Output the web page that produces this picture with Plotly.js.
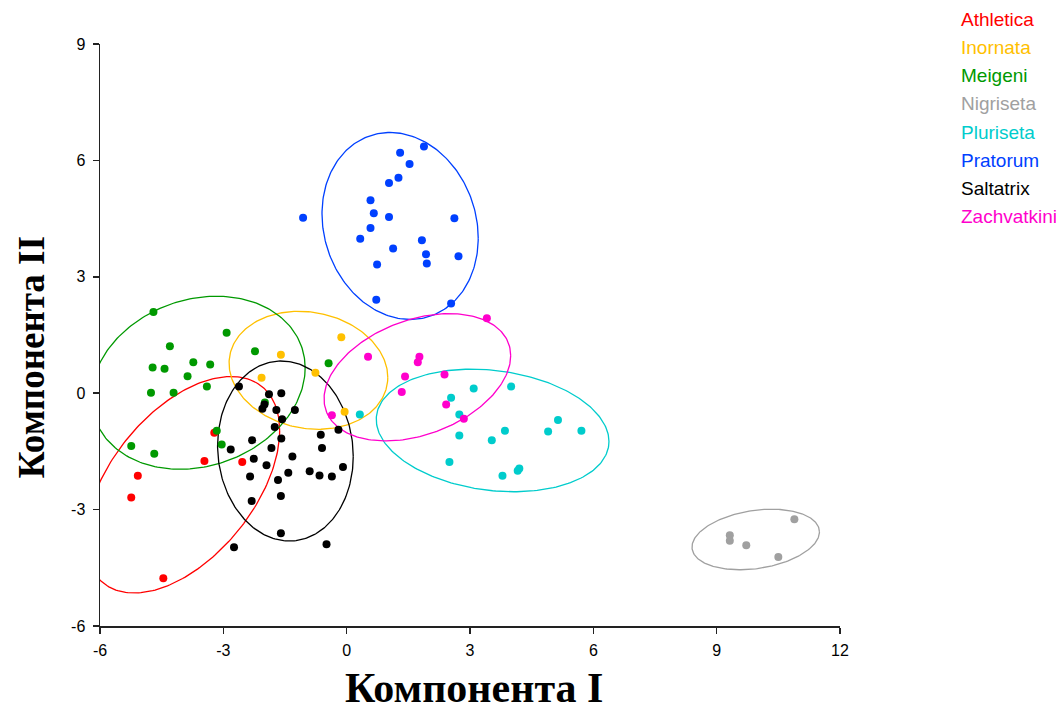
<!DOCTYPE html>
<html>
<head>
<meta charset="utf-8">
<script src="https://cdn.plot.ly/plotly-3.0.1.min.js"></script>
<style>html,body{margin:0;padding:0;background:#fff;}#chart{width:1062px;height:710px;}</style>
</head>
<body>
<div id="chart"></div>
<script>
// Species (legend order) and colours
const species = ["Athletica","Inornata","Meigeni","Nigriseta","Pluriseta","Pratorum","Saltatrix","Zachvatkini"];
const colors  = ["#ff0000","#ffc000","#009900","#a0a0a0","#00cccc","#0040ff","#000000","#ff00cc"];

// Axis titles
const xTitle = "Компонента I";
const yTitle = "Компонента II";

// Component I / Component II scores
const athleticaX = [-3.22,-3.46,-2.54,-5.08,-5.24,-4.46];
const athleticaY = [-1.02,-1.75,-1.77,-2.13,-2.69,-4.77];

const inornataX = [-0.13,-1.60,-0.76,-2.07,-0.05];
const inornataY = [1.44,0.99,0.53,0.40,-0.48];

const meigeniX = [-4.70,-2.92,-4.30,-2.23,-3.73,-3.32,-4.72,-4.43,-3.87,-0.44,-3.40,-4.76,-4.21,-1.99,-3.16,-3.04,-5.24,-4.68];
const meigeniY = [2.09,1.56,1.21,1.08,0.80,0.74,0.66,0.63,0.44,0.77,0.17,0.01,0.01,-0.24,-0.97,-1.32,-1.36,-1.56];

const nigrisetaX = [10.89,9.32,9.32,9.72,10.50];
const nigrisetaY = [-3.25,-3.66,-3.80,-3.92,-4.22];

const plurisetaX = [3.09,4.00,2.54,2.74,0.32,5.14,3.85,4.90,5.71,2.74,3.53,2.50,4.20,4.16,3.79];
const plurisetaY = [0.12,0.17,-0.12,-0.55,-0.55,-0.69,-0.97,-0.99,-0.97,-1.09,-1.21,-1.77,-1.94,-2.00,-2.13];

const pratorumX = [1.88,1.30,1.53,1.26,1.03,0.58,0.66,1.03,-1.06,2.62,0.58,0.33,1.83,1.13,1.93,2.72,0.74,1.95,0.72,2.54];
const pratorumY = [6.36,6.20,5.91,5.55,5.42,4.97,4.64,4.54,4.52,4.51,4.26,3.98,3.94,3.73,3.58,3.53,3.32,3.34,2.41,2.31];

const saltatrixX = [-2.62,-1.89,-1.59,-2.05,-2.00,-1.71,-1.26,-1.57,-1.75,-1.59,-2.30,-2.82,-1.83,-0.63,-0.20,-0.60,-1.32,-2.26,-1.95,-0.09,-2.35,-1.67,-1.42,-0.90,-0.66,-0.36,-1.60,-2.31,-1.60,-2.74,-0.49];
const saltatrixY = [0.17,-0.03,0.00,-0.40,-0.29,-0.43,-0.43,-0.67,-0.87,-1.17,-1.21,-1.45,-1.41,-1.07,-0.94,-1.41,-1.63,-1.69,-1.86,-1.90,-2.15,-2.24,-2.05,-2.01,-2.12,-2.15,-2.65,-2.78,-3.61,-3.97,-3.89];

const zachvatkiniX = [3.41,0.52,1.77,1.73,2.38,1.42,1.34,2.42,2.85,-0.36];
const zachvatkiniY = [1.93,0.94,0.94,0.80,0.48,0.43,0.03,-0.29,-0.66,-0.57];

const seriesX = [athleticaX,inornataX,meigeniX,nigrisetaX,plurisetaX,pratorumX,saltatrixX,zachvatkiniX];
const seriesY = [athleticaY,inornataY,meigeniY,nigrisetaY,plurisetaY,pratorumY,saltatrixY,zachvatkiniY];

// Ellipses: centre, half-width, half-height, correlation
const ellCx = [-3.99,-0.93,-3.61, 9.95, 3.55, 1.30,-1.49, 1.72];
const ellCy = [-2.36, 0.59, 0.27,-3.77,-0.96, 4.31,-1.49, 0.41];
const ellHx = [ 2.36, 1.93, 2.60, 1.55, 2.83, 1.90, 1.65, 2.27];
const ellHy = [ 2.79, 1.52, 2.23, 0.78, 1.58, 2.41, 2.32, 1.64];
const ellR  = [ 0.50,-0.12, 0.17, 0.25,-0.18,-0.13,-0.06, 0.34];

const xTicks = [-6,-3,0,3,6,9,12];
const yTicks = [-6,-3,0,3,6,9];

const traces = [];
species.forEach((name, i) => {
  const n = 240, ex = [], ey = [];
  const s = Math.sqrt(1 - ellR[i]*ellR[i]);
  for (let k = 0; k <= n; k++) {
    const t = 2*Math.PI*k/n;
    ex.push(ellCx[i] + ellHx[i]*Math.cos(t));
    ey.push(ellCy[i] + ellHy[i]*(ellR[i]*Math.cos(t) + s*Math.sin(t)));
  }
  traces.push({x: ex, y: ey, type: 'scatter', mode: 'lines', name: name + ' ellipse',
    line: {color: colors[i], width: 1.3}, hoverinfo: 'skip', showlegend: false});
});
species.forEach((name, i) => {
  traces.push({x: seriesX[i], y: seriesY[i], type: 'scatter', mode: 'markers', name: name,
    marker: {color: colors[i], size: 8, symbol: 'circle'}, showlegend: false, cliponaxis: false});
});

const annotations = species.map((name, i) => ({
  xref: 'paper', yref: 'paper', x: 1.161, y: 1 + (44 - 19.3 - 28.2*i) / 582,
  xanchor: 'left', yanchor: 'middle', showarrow: false, text: name,
  font: {family: 'Liberation Sans, Arial, sans-serif', size: 19, color: colors[i]}
}));
annotations.push({
  xref: 'paper', yref: 'paper', x: 0.505, y: -0.1065, xanchor: 'center', yanchor: 'middle',
  showarrow: false, text: xTitle,
  font: {family: 'Liberation Serif, Times New Roman, serif', size: 42, color: '#000', weight: 'bold'}
});
annotations.push({
  xref: 'paper', yref: 'paper', x: -0.0932, y: 0.462, xanchor: 'center', yanchor: 'middle',
  showarrow: false, text: yTitle, textangle: -90,
  font: {family: 'Liberation Serif, Times New Roman, serif', size: 37, color: '#000', weight: 'bold'}
});

const layout = {
  width: 1062, height: 710,
  margin: {l: 100, r: 222, t: 44, b: 84},
  paper_bgcolor: '#fff', plot_bgcolor: '#fff',
  showlegend: false,
  font: {family: 'Liberation Sans, Arial, sans-serif', size: 16, color: '#000'},
  xaxis: {
    range: [-6, 12], tickvals: xTicks, ticktext: xTicks.map(String),
    showgrid: false, zeroline: false, showline: true, linecolor: '#222', linewidth: 1.5,
    ticks: 'outside', ticklen: 6, tickwidth: 1.5, tickcolor: '#222', ticklabelstandoff: 3,
    tickfont: {size: 16, color: '#000'}
  },
  yaxis: {
    range: [-6, 9], tickvals: yTicks, ticktext: yTicks.map(String),
    showgrid: false, zeroline: false, showline: true, linecolor: '#222', linewidth: 1.5,
    ticks: 'outside', ticklen: 6, tickwidth: 1.5, tickcolor: '#222', ticklabelstandoff: 4,
    tickfont: {size: 16, color: '#000'}
  },
  annotations: annotations
};

Plotly.newPlot('chart', traces, layout, {displayModeBar: false, staticPlot: true});
</script>
</body>
</html>
